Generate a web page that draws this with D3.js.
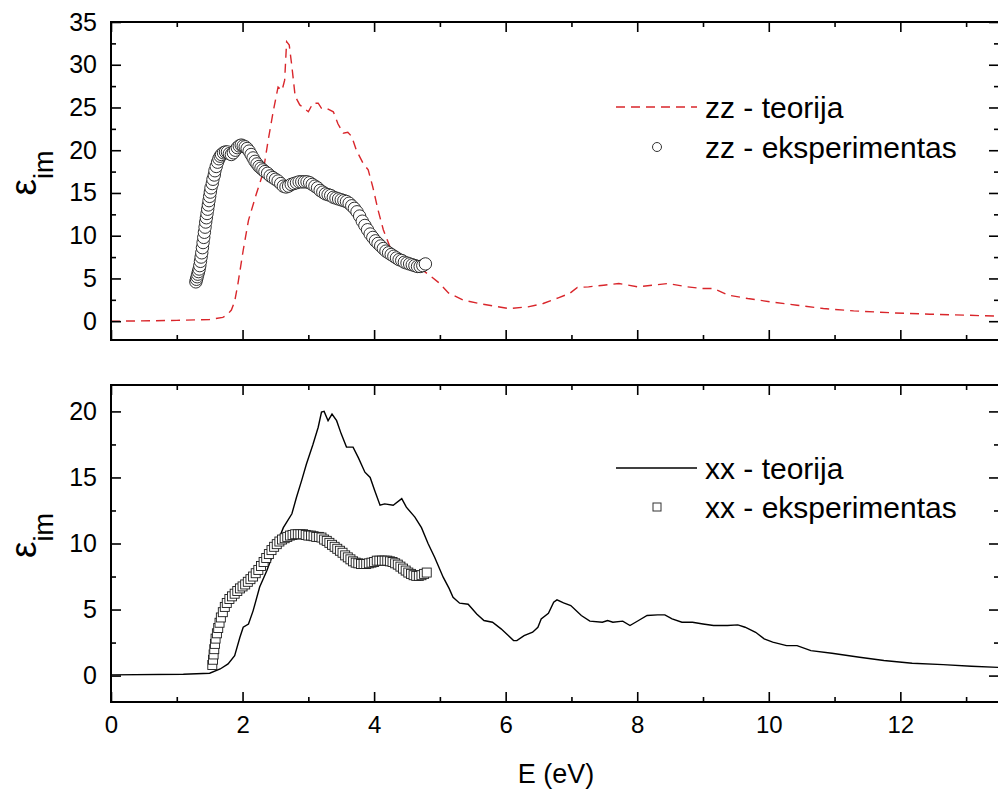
<!DOCTYPE html>
<html>
<head>
<meta charset="utf-8">
<script src="https://cdn.jsdelivr.net/npm/d3@7"></script>
<style>
  html, body { margin: 0; padding: 0; background: #fff; }
  svg { display: block; }
  text { font-family: "Liberation Sans", Arial, sans-serif; fill: #000; }
</style>
</head>
<body>
<svg id="chart" width="998" height="793"></svg>
<script>
// Energy axis ticks (eV)
const energyTicks = [0, 2, 4, 6, 8, 10, 12];
const energyMinorTicks = [1, 3, 5, 7, 9, 11, 13];

// Upper panel: zz component, [E (eV), eps_im]
const zzTicks = [0, 5, 10, 15, 20, 25, 30, 35];
const zzMinorTicks = [2.5, 7.5, 12.5, 17.5, 22.5, 27.5, 32.5];
const zzTheory = [
  [0,0],[0.6,0.05],[1.0,0.1],[1.5,0.2],[1.7,0.45],[1.76,0.7],[1.83,1.3],[1.88,2.3],[1.93,4.4],
  [2.01,8.3],[2.09,11.8],[2.21,14.9],[2.31,17.3],[2.39,21.2],[2.47,24.7],[2.54,27.4],[2.6,27.0],
  [2.64,28.2],[2.67,32.7],[2.71,32.3],[2.75,29.8],[2.8,26.3],[2.87,25.3],[3.0,24.5],[3.07,25.5],
  [3.15,25.5],[3.2,24.9],[3.28,24.9],[3.38,24.5],[3.45,23.1],[3.53,22.0],[3.6,22.1],[3.66,21.6],
  [3.73,20.0],[3.83,18.5],[3.91,17.7],[3.98,15.7],[4.06,13.0],[4.14,10.7],[4.24,8.7],[4.34,7.9],
  [4.5,7.0],[4.7,6.2],[4.87,5.2],[5.0,4.4],[5.13,3.3],[5.36,2.46],[5.65,1.99],[6.05,1.48],
  [6.34,1.68],[6.57,2.07],[6.8,2.73],[6.97,3.24],[7.09,3.94],[7.26,4.02],[7.49,4.21],[7.72,4.41],
  [8.01,4.02],[8.24,4.21],[8.47,4.41],[8.76,4.02],[8.99,3.82],[9.16,3.82],[9.39,3.04],[9.68,2.65],
  [10.03,2.26],[10.43,1.87],[10.83,1.48],[11.29,1.21],[11.87,0.98],[12.45,0.82],[13.02,0.7],[13.5,0.58]
];
const zzExperiment = [
  [1.29,4.6],[1.3,4.9],[1.31,5.2],[1.32,5.5],[1.33,5.8],[1.34,6.1],[1.35,6.5],[1.36,7.0],[1.37,7.5],
  [1.38,8.0],[1.39,8.6],[1.4,9.2],[1.41,9.8],[1.42,10.4],[1.43,11.0],[1.44,11.6],[1.45,12.1],
  [1.46,12.6],[1.47,13.1],[1.48,13.6],[1.49,14.1],[1.5,14.6],[1.51,15.1],[1.52,15.6],[1.54,16.1],
  [1.55,16.6],[1.57,17.1],[1.58,17.6],[1.6,18.1],[1.62,18.6],[1.64,19.0],[1.66,19.3],[1.68,19.5],
  [1.71,19.7],[1.74,19.8],[1.77,19.8],[1.8,19.6],[1.83,19.5],[1.86,19.7],[1.89,20.0],[1.92,20.3],
  [1.95,20.5],[1.98,20.6],[2.01,20.5],[2.04,20.4],[2.07,20.2],[2.1,19.9],[2.13,19.5],[2.16,19.1],
  [2.19,18.7],[2.22,18.4],[2.25,18.1],[2.28,17.9],[2.31,17.7],[2.34,17.5],[2.38,17.3],[2.42,17.0],
  [2.46,16.8],[2.5,16.6],[2.54,16.4],[2.58,16.1],[2.62,15.8],[2.66,15.7],[2.7,15.8],[2.74,16.0],
  [2.78,16.1],[2.82,16.2],[2.86,16.3],[2.9,16.3],[2.94,16.3],[2.98,16.3],[3.02,16.2],[3.06,16.0],
  [3.1,15.8],[3.14,15.6],[3.18,15.3],[3.22,15.1],[3.26,14.9],[3.3,14.8],[3.34,14.7],[3.38,14.5],
  [3.42,14.4],[3.46,14.3],[3.5,14.2],[3.54,14.1],[3.58,14.0],[3.62,13.8],[3.66,13.5],[3.7,13.2],
  [3.74,12.8],[3.78,12.3],[3.82,11.7],[3.86,11.2],[3.9,10.7],[3.94,10.2],[3.98,9.8],[4.02,9.4],
  [4.06,9.1],[4.1,8.8],[4.14,8.5],[4.18,8.2],[4.22,8.0],[4.26,7.8],[4.3,7.6],[4.34,7.4],[4.38,7.2],
  [4.42,7.1],[4.46,6.9],[4.5,6.8],[4.54,6.7],[4.58,6.6],[4.62,6.5],[4.66,6.4],[4.7,6.4],[4.74,6.5],
  [4.78,6.7]
];

// Lower panel: xx component, [E (eV), eps_im]
const xxTicks = [0, 5, 10, 15, 20];
const xxMinorTicks = [2.5, 7.5, 12.5, 17.5];
const xxTheory = [
  [0,0.05],[1.1,0.1],[1.5,0.18],[1.66,0.5],[1.78,0.88],[1.88,1.5],[1.96,2.9],[2.01,3.66],[2.09,3.9],
  [2.16,4.9],[2.26,6.7],[2.37,7.95],[2.52,9.97],[2.62,11.2],[2.75,12.25],[2.82,13.5],[2.9,14.8],
  [2.97,16.0],[3.07,17.5],[3.15,18.8],[3.2,19.95],[3.24,20.0],[3.3,19.3],[3.36,19.8],[3.43,19.3],
  [3.5,18.3],[3.58,17.3],[3.68,17.3],[3.76,16.5],[3.86,15.4],[3.94,15.0],[4.01,14.0],[4.09,12.9],
  [4.16,13.0],[4.29,12.9],[4.42,13.4],[4.49,12.75],[4.62,12.0],[4.72,11.2],[4.82,10.0],[4.92,8.96],
  [5.05,7.45],[5.14,6.6],[5.2,5.93],[5.3,5.48],[5.43,5.4],[5.56,4.67],[5.67,4.17],[5.8,4.04],
  [5.93,3.54],[6.04,3.03],[6.12,2.65],[6.17,2.65],[6.28,3.03],[6.41,3.28],[6.49,3.66],[6.54,4.29],
  [6.65,4.72],[6.73,5.56],[6.78,5.73],[6.88,5.5],[6.99,5.3],[7.15,4.55],[7.28,4.12],[7.47,4.04],
  [7.55,4.17],[7.63,4.04],[7.78,4.12],[7.89,3.79],[8.02,4.17],[8.15,4.55],[8.31,4.6],[8.42,4.6],
  [8.53,4.29],[8.68,4.04],[8.84,4.04],[9.0,3.91],[9.16,3.79],[9.37,3.79],[9.53,3.84],[9.64,3.66],
  [9.8,3.28],[9.93,2.78],[10.06,2.53],[10.27,2.27],[10.43,2.27],[10.64,1.89],[10.96,1.69],
  [11.38,1.39],[11.75,1.14],[12.18,0.93],[12.65,0.83],[13.08,0.71],[13.5,0.62]
];
const xxExperiment = [
  [1.54,0.8],[1.55,1.2],[1.56,1.6],[1.57,2.0],[1.58,2.4],[1.59,2.8],[1.61,3.2],[1.63,3.6],[1.65,4.0],
  [1.67,4.4],[1.7,4.8],[1.73,5.2],[1.76,5.5],[1.8,5.8],[1.84,6.0],[1.88,6.2],[1.92,6.4],[1.96,6.6],
  [2.0,6.75],[2.04,6.9],[2.08,7.1],[2.12,7.3],[2.16,7.5],[2.2,7.75],[2.24,8.0],[2.28,8.3],[2.32,8.6],
  [2.36,8.9],[2.4,9.2],[2.44,9.5],[2.48,9.75],[2.52,9.95],[2.56,10.15],[2.6,10.3],[2.64,10.4],
  [2.68,10.5],[2.72,10.6],[2.76,10.65],[2.8,10.7],[2.84,10.7],[2.88,10.7],[2.92,10.7],[2.96,10.65],
  [3.0,10.6],[3.04,10.6],[3.08,10.55],[3.12,10.5],[3.16,10.5],[3.2,10.45],[3.24,10.3],[3.28,10.2],
  [3.32,10.05],[3.36,9.9],[3.4,9.75],[3.44,9.6],[3.48,9.45],[3.52,9.3],[3.56,9.1],[3.6,8.95],
  [3.64,8.8],[3.68,8.65],[3.72,8.55],[3.76,8.5],[3.8,8.45],[3.84,8.45],[3.88,8.45],[3.92,8.5],
  [3.96,8.55],[4.0,8.6],[4.04,8.7],[4.08,8.7],[4.12,8.7],[4.16,8.7],[4.2,8.7],[4.24,8.65],[4.28,8.6],
  [4.32,8.5],[4.36,8.4],[4.4,8.25],[4.44,8.1],[4.48,7.95],[4.52,7.8],[4.56,7.7],[4.6,7.6],[4.64,7.55],
  [4.68,7.55],[4.72,7.6],[4.76,7.7],[4.8,7.8]
];

const svg = d3.select("#chart");
const left = 111, right = 999;
const x = d3.scaleLinear().domain([0, 13.5]).range([left, right]);

const panels = [
  {
    id: "zz", top: 22, bottom: 340, domain: [-2.2, 35],
    ticks: zzTicks, minor: zzMinorTicks, showX: false,
    theory: zzTheory, exp: zzExperiment,
    lineColor: "#d9262b", dash: "9,6", marker: "circle",
    legend: ["zz - teorija", "zz - eksperimentas"], legendY: [107, 147]
  },
  {
    id: "xx", top: 385, bottom: 702, domain: [-2, 22],
    ticks: xxTicks, minor: xxMinorTicks, showX: true,
    theory: xxTheory, exp: xxExperiment,
    lineColor: "#000", dash: null, marker: "square",
    legend: ["xx - teorija", "xx - eksperimentas"], legendY: [468, 507]
  }
];

const defs = svg.append("defs");

panels.forEach(p => {
  const y = d3.scaleLinear().domain(p.domain).range([p.bottom, p.top]);
  const g = svg.append("g").attr("class", "panel-" + p.id);

  defs.append("clipPath").attr("id", "clip-" + p.id)
    .append("rect").attr("x", left).attr("y", p.top)
    .attr("width", right - left).attr("height", p.bottom - p.top);

  const plot = g.append("g").attr("clip-path", `url(#clip-${p.id})`);

  // theory curve
  const line = d3.line().x(d => x(d[0])).y(d => y(d[1]));
  plot.append("path").datum(p.theory)
    .attr("d", line).attr("fill", "none")
    .attr("stroke", p.lineColor).attr("stroke-width", 1.4)
    .attr("stroke-dasharray", p.dash);

  // experimental points, drawn above the curve
  if (p.marker === "circle") {
    plot.append("g").selectAll("circle").data(p.exp).join("circle")
      .attr("cx", d => x(d[0])).attr("cy", d => y(d[1])).attr("r", 6.2)
      .attr("fill", "#fff").attr("stroke", "#1a1a1a").attr("stroke-width", 0.9);
  } else {
    const s = 9;
    plot.append("g").selectAll("rect").data(p.exp).join("rect")
      .attr("x", d => x(d[0]) - s / 2).attr("y", d => y(d[1]) - s / 2)
      .attr("width", s).attr("height", s)
      .attr("fill", "#fff").attr("stroke", "#1a1a1a").attr("stroke-width", 0.9);
  }

  // axes: ticks point inward on all four sides
  const major = 10, minorLen = 5;
  const yLeft = d3.axisLeft(y).tickValues(p.ticks).tickSizeInner(-major).tickSizeOuter(0).tickPadding(14);
  const yLeftMinor = d3.axisLeft(y).tickValues(p.minor).tickSizeInner(-minorLen).tickSizeOuter(0).tickFormat("");
  const yRight = d3.axisRight(y).tickValues(p.ticks).tickSizeInner(-major).tickSizeOuter(0).tickFormat("");
  const yRightMinor = d3.axisRight(y).tickValues(p.minor).tickSizeInner(-minorLen).tickSizeOuter(0).tickFormat("");
  const xBottom = d3.axisBottom(x).tickValues(energyTicks).tickSizeInner(-major).tickSizeOuter(0).tickPadding(14)
    .tickFormat(p.showX ? d3.format("d") : "");
  const xBottomMinor = d3.axisBottom(x).tickValues(energyMinorTicks).tickSizeInner(-minorLen).tickSizeOuter(0).tickFormat("");
  const xTop = d3.axisTop(x).tickValues(energyTicks).tickSizeInner(-major).tickSizeOuter(0).tickFormat("");
  const xTopMinor = d3.axisTop(x).tickValues(energyMinorTicks).tickSizeInner(-minorLen).tickSizeOuter(0).tickFormat("");

  const axes = g.append("g").attr("class", "axes");
  const put = (gen, tx, ty) => axes.append("g").attr("transform", `translate(${tx},${ty})`).call(gen);
  const yl = put(yLeft, left, 0);
  put(yLeftMinor, left, 0);
  put(yRight, right, 0);
  put(yRightMinor, right, 0);
  const xb = put(xBottom, 0, p.bottom);
  put(xBottomMinor, 0, p.bottom);
  put(xTop, 0, p.top);
  put(xTopMinor, 0, p.top);

  axes.selectAll(".domain").remove();
  axes.selectAll(".tick line").attr("stroke", "#000").attr("stroke-width", 1.6);
  yl.selectAll("text").attr("font-size", 25).attr("font-family", "Liberation Sans, Arial, sans-serif").attr("fill", "#000");
  xb.selectAll("text").attr("font-size", 24).attr("font-family", "Liberation Sans, Arial, sans-serif").attr("fill", "#000");

  // frame
  g.append("rect").attr("x", left).attr("y", p.top)
    .attr("width", right - left).attr("height", p.bottom - p.top)
    .attr("fill", "none").attr("stroke", "#000").attr("stroke-width", 2);

  // y label: epsilon with subscript "im"
  const cy = (p.top + p.bottom) / 2 - 8;
  const lab = g.append("text")
    .attr("transform", `translate(36,${cy}) rotate(-90)`)
    .attr("text-anchor", "middle");
  lab.append("tspan").attr("font-size", 37).text("ε");
  lab.append("tspan").attr("font-size", 27).attr("dy", 17).text("im");

  // legend
  const lg = g.append("g").attr("class", "legend");
  lg.append("line").attr("x1", 616).attr("x2", 697)
    .attr("y1", p.legendY[0]).attr("y2", p.legendY[0])
    .attr("stroke", p.lineColor).attr("stroke-width", 1.4)
    .attr("stroke-dasharray", p.dash);
  if (p.marker === "circle") {
    lg.append("circle").attr("cx", 657).attr("cy", p.legendY[1]).attr("r", 4.5)
      .attr("fill", "#fff").attr("stroke", "#333").attr("stroke-width", 1);
  } else {
    lg.append("rect").attr("x", 653).attr("y", p.legendY[1] - 4).attr("width", 8).attr("height", 8)
      .attr("fill", "#fff").attr("stroke", "#333").attr("stroke-width", 1);
  }
  p.legend.forEach((t, i) => {
    lg.append("text").attr("x", 705).attr("y", p.legendY[i])
      .attr("dy", "0.35em").attr("font-size", 30).text(t);
  });
});

// x axis title
svg.append("text").attr("x", 556).attr("y", 783)
  .attr("text-anchor", "middle").attr("font-size", 27).text("E (eV)");
</script>
</body>
</html>
